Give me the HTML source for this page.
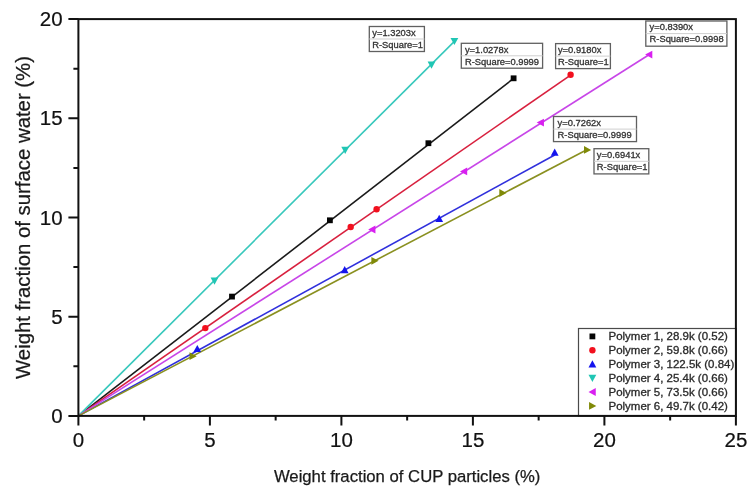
<!DOCTYPE html><html><head><meta charset="utf-8"><style>html,body{margin:0;padding:0;background:#fff;}svg{display:block;filter:blur(0.35px);}</style></head><body>
<svg width="754" height="496" viewBox="0 0 754 496" font-family="'Liberation Sans', sans-serif">
<rect width="754" height="496" fill="#fff"/>
<line x1="78.40" y1="415.90" x2="513.60" y2="78.47" stroke="#1a1a1a" stroke-width="1.6"/>
<line x1="78.40" y1="415.90" x2="570.60" y2="75.04" stroke="#d8203e" stroke-width="1.6"/>
<line x1="78.40" y1="415.90" x2="554.70" y2="154.97" stroke="#3030dc" stroke-width="1.6"/>
<line x1="78.40" y1="415.90" x2="454.40" y2="41.40" stroke="#38c8bc" stroke-width="1.6"/>
<line x1="78.40" y1="415.90" x2="649.00" y2="54.76" stroke="#c846e8" stroke-width="1.6"/>
<line x1="78.40" y1="415.90" x2="587.30" y2="149.43" stroke="#8a9020" stroke-width="1.6"/>
<rect x="229.10" y="293.70" width="5.8" height="5.8" fill="#050505"/>
<rect x="327.00" y="217.40" width="5.8" height="5.8" fill="#050505"/>
<rect x="425.50" y="140.30" width="5.8" height="5.8" fill="#050505"/>
<rect x="510.70" y="75.40" width="5.8" height="5.8" fill="#050505"/>
<circle cx="205.30" cy="328.10" r="3.2" fill="#f2101e"/>
<circle cx="350.70" cy="227.00" r="3.2" fill="#f2101e"/>
<circle cx="376.60" cy="209.30" r="3.2" fill="#f2101e"/>
<circle cx="570.60" cy="74.70" r="3.2" fill="#f2101e"/>
<polygon points="197.30,344.90 201.20,352.12 193.40,352.12" fill="#1414ee"/>
<polygon points="344.70,266.10 348.60,273.31 340.80,273.31" fill="#1414ee"/>
<polygon points="439.20,214.70 443.10,221.91 435.30,221.91" fill="#1414ee"/>
<polygon points="554.70,148.60 558.60,155.81 550.80,155.81" fill="#1414ee"/>
<polygon points="214.50,284.70 218.40,277.49 210.60,277.49" fill="#20c6b4"/>
<polygon points="345.20,153.90 349.10,146.69 341.30,146.69" fill="#20c6b4"/>
<polygon points="431.50,68.80 435.40,61.59 427.60,61.59" fill="#20c6b4"/>
<polygon points="454.40,45.10 458.30,37.89 450.50,37.89" fill="#20c6b4"/>
<polygon points="368.20,229.50 375.42,225.60 375.42,233.40" fill="#d820f0"/>
<polygon points="459.95,171.40 467.17,167.50 467.17,175.30" fill="#d820f0"/>
<polygon points="536.70,122.60 543.92,118.70 543.92,126.50" fill="#d820f0"/>
<polygon points="645.10,54.60 652.32,50.70 652.32,58.50" fill="#d820f0"/>
<polygon points="196.70,356.20 189.49,352.30 189.49,360.10" fill="#808a08"/>
<polygon points="378.60,260.80 371.38,256.90 371.38,264.70" fill="#808a08"/>
<polygon points="506.50,193.00 499.29,189.10 499.29,196.90" fill="#808a08"/>
<polygon points="591.20,149.90 583.98,146.00 583.98,153.80" fill="#808a08"/>
<rect x="369.3" y="26.5" width="55.1" height="25.0" fill="#fff" stroke="#606060" stroke-width="1.3"/>
<line x1="369.3" y1="39.0" x2="424.4" y2="39.0" stroke="#cfcfcf" stroke-width="1"/>
<g transform="translate(372.25 0) scale(1.04 1)" font-size="9.0" fill="#333" stroke="#333" stroke-width="0.3">
<text x="0" y="35.9">y=1.3203x</text>
<text x="0" y="47.8">R-Square=1</text></g>
<rect x="461.3" y="43.3" width="81.3" height="24.9" fill="#fff" stroke="#606060" stroke-width="1.3"/>
<line x1="461.3" y1="55.8" x2="542.6" y2="55.8" stroke="#cfcfcf" stroke-width="1"/>
<g transform="translate(464.95 0) scale(1.04 1)" font-size="9.0" fill="#333" stroke="#333" stroke-width="0.3">
<text x="0" y="52.7">y=1.0278x</text>
<text x="0" y="64.6">R-Square=0.9999</text></g>
<rect x="555.6" y="43.6" width="54.8" height="25.0" fill="#fff" stroke="#606060" stroke-width="1.3"/>
<line x1="555.6" y1="56.1" x2="610.4" y2="56.1" stroke="#cfcfcf" stroke-width="1"/>
<g transform="translate(557.95 0) scale(1.04 1)" font-size="9.0" fill="#333" stroke="#333" stroke-width="0.3">
<text x="0" y="53.0">y=0.9180x</text>
<text x="0" y="64.9">R-Square=1</text></g>
<rect x="645.8" y="21.0" width="81.1" height="25.2" fill="#fff" stroke="#606060" stroke-width="1.3"/>
<line x1="645.8" y1="33.6" x2="726.9" y2="33.6" stroke="#cfcfcf" stroke-width="1"/>
<g transform="translate(649.55 0) scale(1.04 1)" font-size="9.0" fill="#333" stroke="#333" stroke-width="0.3">
<text x="0" y="30.4">y=0.8390x</text>
<text x="0" y="42.3">R-Square=0.9998</text></g>
<rect x="553.5" y="116.5" width="83.0" height="25.1" fill="#fff" stroke="#606060" stroke-width="1.3"/>
<line x1="553.5" y1="129.1" x2="636.5" y2="129.1" stroke="#cfcfcf" stroke-width="1"/>
<g transform="translate(557.55 0) scale(1.04 1)" font-size="9.0" fill="#333" stroke="#333" stroke-width="0.3">
<text x="0" y="125.9">y=0.7262x</text>
<text x="0" y="137.8">R-Square=0.9999</text></g>
<rect x="594.0" y="148.7" width="54.8" height="25.2" fill="#fff" stroke="#606060" stroke-width="1.3"/>
<line x1="594.0" y1="161.3" x2="648.8" y2="161.3" stroke="#cfcfcf" stroke-width="1"/>
<g transform="translate(596.85 0) scale(1.04 1)" font-size="9.0" fill="#333" stroke="#333" stroke-width="0.3">
<text x="0" y="158.1">y=0.6941x</text>
<text x="0" y="170.0">R-Square=1</text></g>
<rect x="578.5" y="328.5" width="157.5" height="87.5" fill="#fff" stroke="#4a4a4a" stroke-width="1.2"/>
<rect x="589.50" y="333.50" width="5.8" height="5.8" fill="#050505"/>
<text x="608.5" y="340.2" font-size="10.6" fill="#2a2a2a" stroke="#2a2a2a" stroke-width="0.3" transform="translate(608.5 0) scale(1.085 1) translate(-608.5 0)">Polymer 1, 28.9k (0.52)</text>
<circle cx="592.40" cy="350.30" r="3.2" fill="#f2101e"/>
<text x="608.5" y="354.1" font-size="10.6" fill="#2a2a2a" stroke="#2a2a2a" stroke-width="0.3" transform="translate(608.5 0) scale(1.085 1) translate(-608.5 0)">Polymer 2, 59.8k (0.66)</text>
<polygon points="592.40,360.30 596.30,367.51 588.50,367.51" fill="#1414ee"/>
<text x="608.5" y="368.0" font-size="10.6" fill="#2a2a2a" stroke="#2a2a2a" stroke-width="0.3" transform="translate(608.5 0) scale(1.085 1) translate(-608.5 0)">Polymer 3, 122.5k (0.84)</text>
<polygon points="592.40,382.00 596.30,374.78 588.50,374.78" fill="#20c6b4"/>
<text x="608.5" y="381.9" font-size="10.6" fill="#2a2a2a" stroke="#2a2a2a" stroke-width="0.3" transform="translate(608.5 0) scale(1.085 1) translate(-608.5 0)">Polymer 4, 25.4k (0.66)</text>
<polygon points="588.50,392.00 595.72,388.10 595.72,395.90" fill="#d820f0"/>
<text x="608.5" y="395.8" font-size="10.6" fill="#2a2a2a" stroke="#2a2a2a" stroke-width="0.3" transform="translate(608.5 0) scale(1.085 1) translate(-608.5 0)">Polymer 5, 73.5k (0.66)</text>
<polygon points="596.30,405.90 589.08,402.00 589.08,409.80" fill="#808a08"/>
<text x="608.5" y="409.7" font-size="10.6" fill="#2a2a2a" stroke="#2a2a2a" stroke-width="0.3" transform="translate(608.5 0) scale(1.085 1) translate(-608.5 0)">Polymer 6, 49.7k (0.42)</text>
<rect x="78.4" y="19.10" width="657.50" height="396.80" fill="none" stroke="#111" stroke-width="2"/>
<path d="M68.40,415.90 H78.40 M68.40,316.70 H78.40 M68.40,217.50 H78.40 M68.40,118.30 H78.40 M68.40,19.10 H78.40 M73.40,366.30 H78.40 M73.40,267.10 H78.40 M73.40,167.90 H78.40 M73.40,68.70 H78.40 M78.40,415.90 V425.40 M209.90,415.90 V425.40 M341.40,415.90 V425.40 M472.90,415.90 V425.40 M604.40,415.90 V425.40 M735.90,415.90 V425.40 M144.15,415.90 V420.40 M275.65,415.90 V420.40 M407.15,415.90 V420.40 M538.65,415.90 V420.40 M670.15,415.90 V420.40" stroke="#111" stroke-width="2" fill="none"/>
<text x="62.6" y="423.00" font-size="20.5" text-anchor="end" fill="#111" stroke="#111" stroke-width="0.2">0</text>
<text x="62.6" y="323.80" font-size="20.5" text-anchor="end" fill="#111" stroke="#111" stroke-width="0.2">5</text>
<text x="62.6" y="224.60" font-size="20.5" text-anchor="end" fill="#111" stroke="#111" stroke-width="0.2">10</text>
<text x="62.6" y="125.40" font-size="20.5" text-anchor="end" fill="#111" stroke="#111" stroke-width="0.2">15</text>
<text x="62.6" y="26.20" font-size="20.5" text-anchor="end" fill="#111" stroke="#111" stroke-width="0.2">20</text>
<text x="78.40" y="447.2" font-size="20.5" text-anchor="middle" fill="#111" stroke="#111" stroke-width="0.2">0</text>
<text x="209.90" y="447.2" font-size="20.5" text-anchor="middle" fill="#111" stroke="#111" stroke-width="0.2">5</text>
<text x="341.40" y="447.2" font-size="20.5" text-anchor="middle" fill="#111" stroke="#111" stroke-width="0.2">10</text>
<text x="472.90" y="447.2" font-size="20.5" text-anchor="middle" fill="#111" stroke="#111" stroke-width="0.2">15</text>
<text x="604.40" y="447.2" font-size="20.5" text-anchor="middle" fill="#111" stroke="#111" stroke-width="0.2">20</text>
<text x="735.90" y="447.2" font-size="20.5" text-anchor="middle" fill="#111" stroke="#111" stroke-width="0.2">25</text>
<text x="407.15" y="481.5" font-size="16.7" text-anchor="middle" fill="#1a1a1a" stroke="#1a1a1a" stroke-width="0.25">Weight fraction of CUP particles (%)</text>
<text transform="translate(30.2 217.5) rotate(-90)" x="0" y="0" font-size="20.35" text-anchor="middle" fill="#1a1a1a" stroke="#1a1a1a" stroke-width="0.25">Weight fraction of surface water (%)</text>
</svg></body></html>
